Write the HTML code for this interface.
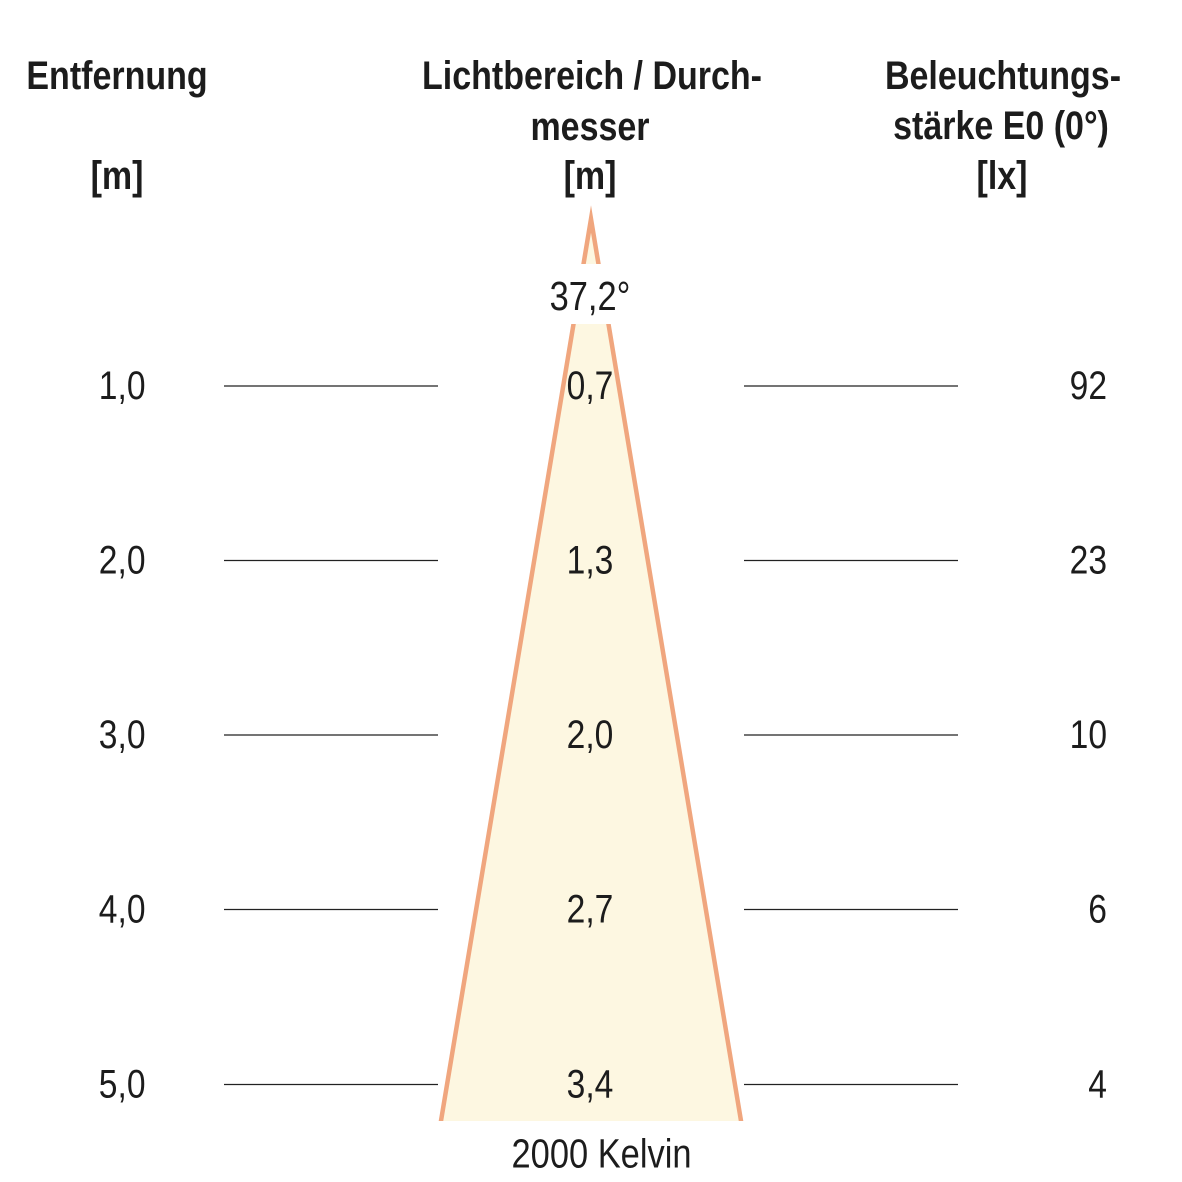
<!DOCTYPE html>
<html><head><meta charset="utf-8"><style>
html,body{margin:0;padding:0;background:#fff;}
svg{display:block;}
text{font-family:"Liberation Sans",Arial,sans-serif;fill:#1c1c1c;}
.b{font-weight:bold;font-size:40px;}
.r{font-size:40px;}
</style></head><body>
<svg width="1182" height="1182" viewBox="0 0 1182 1182" xmlns="http://www.w3.org/2000/svg">
<rect width="1182" height="1182" fill="#fff"/>
<defs><clipPath id="c"><rect x="0" y="0" width="1182" height="1121"/></clipPath></defs>
<g clip-path="url(#c)">
<polygon points="591,219 440.3,1125 741.7,1125" fill="#fdf7e1"/>
<polyline points="440.3,1125 591,219 741.7,1125" fill="none" stroke="#f0a67e" stroke-width="4.5" stroke-linejoin="miter" stroke-miterlimit="20"/>
</g>
<rect x="538" y="264" width="104" height="60" fill="#fff"/>

<!-- headers -->
<g transform="translate(117,89) scale(0.85,1)"><text class="b" text-anchor="middle">Entfernung</text></g>
<g transform="translate(117,189) scale(0.85,1)"><text class="b" text-anchor="middle">[m]</text></g>

<g transform="translate(592,89) scale(0.85,1)"><text class="b" text-anchor="middle">Lichtbereich / Durch-</text></g>
<g transform="translate(590,140) scale(0.85,1)"><text class="b" text-anchor="middle">messer</text></g>
<g transform="translate(590,189) scale(0.85,1)"><text class="b" text-anchor="middle">[m]</text></g>

<g transform="translate(1003,89) scale(0.85,1)"><text class="b" text-anchor="middle">Beleuchtungs-</text></g>
<g transform="translate(1001,139) scale(0.85,1)"><text class="b" text-anchor="middle">stärke E0 (0°)</text></g>
<g transform="translate(1002,189) scale(0.85,1)"><text class="b" text-anchor="middle">[lx]</text></g>

<g transform="translate(590,310) scale(0.84,1)"><text class="r" style="font-size:41px" text-anchor="middle">37,2°</text></g>

<!-- rows -->
<g stroke="#222" stroke-width="1.2">
<line x1="224" y1="386" x2="438" y2="386"/><line x1="744" y1="386" x2="958" y2="386"/>
<line x1="224" y1="560.5" x2="438" y2="560.5"/><line x1="744" y1="560.5" x2="958" y2="560.5"/>
<line x1="224" y1="735" x2="438" y2="735"/><line x1="744" y1="735" x2="958" y2="735"/>
<line x1="224" y1="909.5" x2="438" y2="909.5"/><line x1="744" y1="909.5" x2="958" y2="909.5"/>
<line x1="224" y1="1084.5" x2="438" y2="1084.5"/><line x1="744" y1="1084.5" x2="958" y2="1084.5"/>
</g>

<g transform="translate(145.5,399) scale(0.84,1)"><text class="r" text-anchor="end">1,0</text></g>
<g transform="translate(145.5,573.5) scale(0.84,1)"><text class="r" text-anchor="end">2,0</text></g>
<g transform="translate(145.5,748) scale(0.84,1)"><text class="r" text-anchor="end">3,0</text></g>
<g transform="translate(145.5,922.5) scale(0.84,1)"><text class="r" text-anchor="end">4,0</text></g>
<g transform="translate(145.5,1097.5) scale(0.84,1)"><text class="r" text-anchor="end">5,0</text></g>

<g transform="translate(590,399) scale(0.84,1)"><text class="r" text-anchor="middle">0,7</text></g>
<g transform="translate(590,573.5) scale(0.84,1)"><text class="r" text-anchor="middle">1,3</text></g>
<g transform="translate(590,748) scale(0.84,1)"><text class="r" text-anchor="middle">2,0</text></g>
<g transform="translate(590,922.5) scale(0.84,1)"><text class="r" text-anchor="middle">2,7</text></g>
<g transform="translate(590,1097.5) scale(0.84,1)"><text class="r" text-anchor="middle">3,4</text></g>

<g transform="translate(1107,399) scale(0.84,1)"><text class="r" text-anchor="end">92</text></g>
<g transform="translate(1107,573.5) scale(0.84,1)"><text class="r" text-anchor="end">23</text></g>
<g transform="translate(1107,748) scale(0.84,1)"><text class="r" text-anchor="end">10</text></g>
<g transform="translate(1107,922.5) scale(0.84,1)"><text class="r" text-anchor="end">6</text></g>
<g transform="translate(1107,1097.5) scale(0.84,1)"><text class="r" text-anchor="end">4</text></g>

<g transform="translate(601.5,1167.5) scale(0.84,1)"><text class="r" style="font-size:41px" text-anchor="middle">2000 Kelvin</text></g>
</svg>
</body></html>
